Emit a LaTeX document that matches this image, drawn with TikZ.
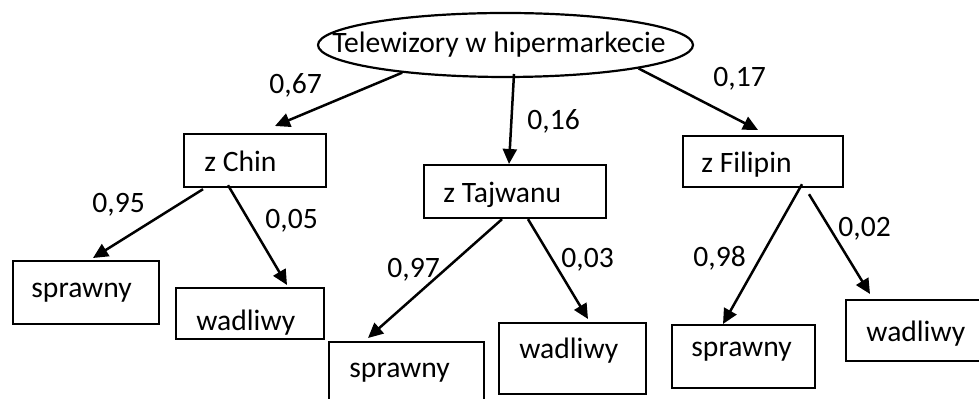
\documentclass[tikz,border=0pt]{standalone}
\usepackage{fontspec}
\setmainfont{Carlito}
\usetikzlibrary{shapes.geometric,arrows.meta,calc}
\tikzset{
  box/.style={draw, line width=1.1pt, inner sep=0pt, anchor=north west},
  txt/.style={inner sep=0pt, anchor=base west, font=\fontsize{14.8}{17}\selectfont},
  arr/.style={line width=1.25pt, -{Triangle[length=7.5pt,width=7pt]}}
}
\begin{document}
\begin{tikzpicture}[x=0.5pt,y=-0.5pt]
\useasboundingbox (0,0) rectangle (979,399);
\clip (0,0) rectangle (979,399);
% root
\node[draw, ellipse, line width=1.1pt, minimum width=187.5pt, minimum height=32pt, inner sep=0pt] (top) at (505.5,45) {};
\node[txt] (topT) at (332,53) {Telewizory w hipermarkecie};
% level 1
\node[box, minimum width=71pt, minimum height=26.5pt] (chin) at (183,133) {};
\node[txt] (chinT) at (204,172) {z Chin};
\node[box, minimum width=91pt, minimum height=26.5pt] (taj) at (423,164) {};
\node[txt] (tajT) at (443,203) {z Tajwanu};
\node[box, minimum width=80pt, minimum height=25.5pt] (fil) at (682,135) {};
\node[txt] (filT) at (701,173) {z Filipin};
% level 2
\node[box, minimum width=73pt, minimum height=31.5pt] (spr1) at (12,260) {};
\node[txt] (spr1T) at (31,298) {sprawny};
\node[box, minimum width=74pt, minimum height=25.5pt] (wad1) at (175,287) {};
\begin{scope}
\clip (175,287) rectangle (323,337);
\node[txt] (wad1T) at (196,331) {wadliwy};
\end{scope}
\node[box, minimum width=77.5pt, minimum height=39.5pt] (spr2) at (328,341) {};
\node[txt] (spr2T) at (349,378) {sprawny};
\node[box, minimum width=73.5pt, minimum height=35.5pt] (wad2) at (498,322) {};
\node[txt] (wad2T) at (519,359) {wadliwy};
\node[box, minimum width=71.5pt, minimum height=31.5pt] (spr3) at (671,324) {};
\node[txt] (spr3T) at (691,357) {sprawny};
\node[box, minimum width=77.5pt, minimum height=30.5pt] (wad3) at (845,299) {};
\node[txt] (wad3T) at (866,342) {wadliwy};
% arrows
\draw[arr] (top.195.6) -- ($(chin.north west)+(92,-7)$);
\draw[arr] ($(top.center)+(8.5,29)$) -- ($(taj.north west)+(86,0)$);
\draw[arr] (top.-10.1) -- ($(fil.north west)+(76,-5)$);
\draw[arr] ($(chin.south west)+(20,1)$) -- ($(spr1.north west)+(81,-2)$);
\draw[arr] ($(chin.south west)+(45,-3)$) -- ($(wad1.north west)+(112,-2)$);
\draw[arr] ($(taj.south west)+(79,0)$) -- ($(spr2.north west)+(40,-3)$);
\draw[arr] ($(taj.south west)+(105,0)$) -- ($(wad2.north west)+(90,-3)$);
\draw[arr] ($(fil.south west)+(120,-4)$) -- ($(spr3.north west)+(52,0)$);
\draw[arr] ($(fil.south west)+(127,6)$) -- ($(wad3.north west)+(25,-5)$);
% probability labels
\node[txt] (p1) at (269,94) {0,67};
\node[txt] (p2) at (527,130) {0,16};
\node[txt] (p3) at (713,87) {0,17};
\node[txt] (p4) at (92,213) {0,95};
\node[txt] (p5) at (265,229) {0,05};
\node[txt] (p6) at (387,278) {0,97};
\node[txt] (p7) at (561,268) {0,03};
\node[txt] (p8) at (693,267) {0,98};
\node[txt] (p9) at (838,237) {0,02};
\end{tikzpicture}
\end{document}
